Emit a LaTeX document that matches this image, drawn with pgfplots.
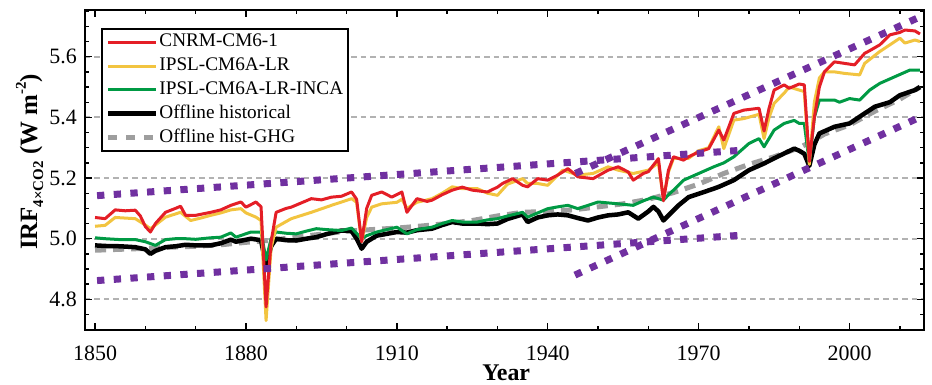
\documentclass[border=0pt]{standalone}
\usepackage{fontspec}
\setmainfont{Liberation Serif}
\usepackage{pgfplots}
\pgfplotsset{compat=1.18}
\definecolor{cred}{RGB}{228,30,38}
\definecolor{cyel}{RGB}{242,196,64}
\definecolor{cgrn}{RGB}{0,154,68}
\definecolor{cgry}{RGB}{158,158,158}
\definecolor{cpur}{RGB}{112,48,160}
\begin{document}
\begin{tikzpicture}
\begin{axis}[
  width=839bp, height=320bp, scale only axis,
  clip mode=individual,
  xmin=1848, xmax=2014.8, ymin=4.699, ymax=5.754,
  xtick={1820,1850,1880,1910,1940,1970,2000,2030},
  xticklabels={1820,1850,1880,1910,1940,1970,2000,2030},
  ytick={4.6,4.8,5.0,5.2,5.4,5.6,5.8},
  yticklabels={4.6,4.8,5.0,5.2,5.4,5.6,5.8},
  minor x tick num=2, minor y tick num=3,
  tick align=inside, xtick pos=both, ytick pos=both,
  xticklabel pos=lower, yticklabel pos=left,
  major tick length=7bp, minor tick length=4bp,
  every tick/.style={black, line width=1.4bp},
  axis line style={line width=2.4bp},
  ymajorgrids,
  major grid style={dash pattern=on 5.5bp off 4bp, line width=1.8bp, color=black!30},
  /pgf/number format/assume math mode=true,
  tick label style={font=\fontsize{22}{26}\selectfont, inner sep=0pt},
  xticklabel style={anchor=base, yshift=-30bp},
  yticklabel style={anchor=east, xshift=-8bp},
  xlabel={\textbf{Year}},
  xlabel style={at={(axis description cs:0.502,0)}, anchor=base, yshift=-50bp, font=\fontsize{24}{28}\selectfont, inner sep=0pt},
  legend image code/.code={\draw[#1] (0bp,0bp) -- (48bp,0bp);},
  legend cell align=left,
  legend style={at={(axis description cs:0.0191,0.9437)}, anchor=north west,
    draw=black, line width=1.8bp, fill=white,
    font=\fontsize{19.3}{22}\selectfont,
    inner xsep=4bp, inner ysep=2bp, row sep=1bp,
    nodes={inner xsep=1bp, inner ysep=2.5bp, text height=13.5bp, text depth=4.3bp}},
]
\addlegendimage{cred, line width=3bp}
\addlegendentry{CNRM-CM6-1}
\addlegendimage{cyel, line width=3bp}
\addlegendentry{IPSL-CM6A-LR}
\addlegendimage{cgrn, line width=3bp}
\addlegendentry{IPSL-CM6A-LR-INCA}
\addlegendimage{black, line width=4.5bp}
\addlegendentry{Offline historical}
\addlegendimage{cgry, line width=4.5bp, dash pattern=on 9bp off 9bp}
\addlegendentry{Offline hist-GHG}

% Offline hist-GHG
\addplot[forget plot, cgry, line width=5bp, dash pattern=on 11bp off 7bp, line join=round] coordinates {
(1850,4.962) (1855,4.965) (1860,4.968) (1865,4.972) (1870,4.975) (1875,4.98) (1880,4.988) (1885,4.995) (1890,5.005) (1895,5.015) (1900,5.025) (1905,5.03) (1910,5.035) (1915,5.042) (1920,5.05) (1925,5.06) (1930,5.075) (1935,5.087) (1940,5.09) (1945,5.095) (1950,5.105) (1955,5.115) (1960,5.13) (1965,5.152) (1970,5.18) (1975,5.215) (1980,5.245) (1985,5.27) (1990,5.3) (1993,5.325) (1995,5.345) (2000,5.375) (2005,5.42) (2010,5.46) (2014,5.5)
};
% Offline historical
\addplot[forget plot, black, line width=4.5bp, line join=round] coordinates {
(1850,4.978) (1852,4.976) (1855,4.975) (1858,4.972) (1860,4.965) (1861,4.95) (1862,4.96) (1864,4.972) (1866,4.975) (1868,4.98) (1870,4.978) (1873,4.978) (1875,4.985) (1877,4.997) (1878,4.99) (1881,5.0) (1883,4.995) (1884,4.91) (1885,4.975) (1886,5.0) (1888,4.995) (1890,4.994) (1892,5.0) (1894,5.005) (1896,5.015) (1899,5.027) (1901,5.025) (1902,5.0) (1903,4.967) (1904,4.99) (1906,5.01) (1908,5.016) (1910,5.022) (1912,5.02) (1914,5.028) (1917,5.033) (1919,5.045) (1921,5.055) (1923,5.05) (1926,5.05) (1928,5.048) (1930,5.05) (1932,5.065) (1935,5.08) (1936,5.055) (1938,5.07) (1940,5.077) (1942,5.08) (1944,5.077) (1946,5.068) (1948,5.06) (1950,5.07) (1952,5.077) (1954,5.08) (1956,5.087) (1958,5.066) (1960,5.09) (1961,5.105) (1962,5.09) (1963,5.06) (1964,5.077) (1966,5.11) (1968,5.137) (1970,5.148) (1973,5.165) (1974,5.171) (1977,5.193) (1980,5.226) (1983,5.248) (1985,5.265) (1987,5.281) (1989,5.297) (1990,5.29) (1991,5.28) (1992,5.24) (1993,5.31) (1994,5.347) (1997,5.369) (2000,5.38) (2002,5.402) (2005,5.435) (2008,5.45) (2010,5.473) (2013,5.49) (2014,5.5)
};
% IPSL-CM6A-LR-INCA
\addplot[forget plot, cgrn, line width=3bp, line join=round] coordinates {
(1850,5.003) (1852,5.0) (1855,4.997) (1858,4.997) (1860,4.99) (1862,4.978) (1864,4.997) (1866,5.0) (1868,5.0) (1870,4.998) (1873,5.003) (1875,5.005) (1877,5.019) (1878,5.005) (1881,5.022) (1883,5.022) (1884,4.93) (1885,5.0) (1886,5.022) (1888,5.018) (1890,5.016) (1892,5.025) (1894,5.033) (1896,5.03) (1899,5.027) (1901,5.035) (1903,5.0) (1904,5.01) (1906,5.022) (1908,5.03) (1910,5.038) (1912,5.016) (1914,5.03) (1917,5.038) (1919,5.05) (1921,5.06) (1923,5.055) (1926,5.055) (1928,5.062) (1930,5.066) (1932,5.075) (1935,5.087) (1936,5.071) (1938,5.085) (1940,5.099) (1942,5.105) (1944,5.11) (1946,5.099) (1948,5.11) (1950,5.121) (1952,5.118) (1954,5.115) (1957,5.11) (1959,5.125) (1961,5.137) (1963,5.127) (1964,5.145) (1965,5.16) (1967,5.193) (1970,5.215) (1973,5.237) (1975,5.25) (1977,5.27) (1980,5.314) (1982,5.33) (1983,5.303) (1985,5.358) (1987,5.38) (1989,5.39) (1990,5.38) (1991,5.38) (1992,5.25) (1993,5.40) (1994,5.457) (1997,5.457) (1998,5.45) (2000,5.462) (2002,5.457) (2004,5.49) (2006,5.512) (2009,5.534) (2012,5.556) (2014,5.556)
};
% IPSL-CM6A-LR
\addplot[forget plot, cyel, line width=3bp, line join=round] coordinates {
(1850,5.041) (1852,5.044) (1854,5.07) (1856,5.068) (1858,5.066) (1860,5.045) (1861,5.033) (1862,5.045) (1864,5.071) (1867,5.087) (1869,5.06) (1871,5.068) (1873,5.077) (1875,5.085) (1877,5.095) (1879,5.099) (1880,5.085) (1882,5.071) (1883,5.06) (1884,4.73) (1885,4.97) (1886,5.038) (1889,5.066) (1893,5.087) (1897,5.11) (1901,5.132) (1902,5.12) (1903,4.99) (1904,5.07) (1905,5.104) (1907,5.115) (1910,5.12) (1911,5.13) (1912,5.10) (1914,5.12) (1917,5.132) (1919,5.15) (1921,5.171) (1923,5.165) (1926,5.165) (1928,5.15) (1930,5.143) (1932,5.18) (1935,5.198) (1936,5.182) (1938,5.182) (1940,5.176) (1943,5.226) (1946,5.21) (1949,5.215) (1952,5.237) (1954,5.226) (1957,5.215) (1960,5.226) (1962,5.25) (1963,5.13) (1964,5.22) (1965,5.265) (1968,5.265) (1970,5.29) (1972,5.30) (1974,5.369) (1975,5.297) (1977,5.391) (1979,5.396) (1982,5.41) (1983,5.33) (1984,5.40) (1985,5.446) (1987,5.48) (1988,5.50) (1990,5.49) (1991,5.485) (1992,5.245) (1993,5.45) (1994,5.53) (1995,5.55) (1997,5.55) (1999,5.545) (2002,5.54) (2003,5.578) (2006,5.617) (2008,5.639) (2010,5.661) (2011,5.645) (2013,5.655) (2014,5.65)
};
% CNRM-CM6-1
\addplot[forget plot, cred, line width=3bp, line join=round] coordinates {
(1850,5.07) (1852,5.066) (1854,5.095) (1856,5.092) (1858,5.094) (1859,5.075) (1860,5.04) (1861,5.022) (1862,5.05) (1864,5.087) (1866,5.10) (1867,5.107) (1868,5.077) (1870,5.077) (1873,5.087) (1875,5.095) (1877,5.11) (1879,5.121) (1880,5.104) (1882,5.121) (1883,5.105) (1884,4.775) (1885,4.99) (1886,5.087) (1888,5.10) (1889,5.104) (1891,5.118) (1893,5.132) (1895,5.128) (1897,5.137) (1899,5.14) (1901,5.154) (1902,5.13) (1903,4.99) (1904,5.10) (1905,5.143) (1907,5.154) (1909,5.137) (1911,5.154) (1912,5.087) (1914,5.132) (1916,5.123) (1917,5.127) (1919,5.145) (1921,5.16) (1923,5.17) (1925,5.16) (1928,5.154) (1930,5.17) (1931,5.182) (1933,5.198) (1935,5.176) (1936,5.171) (1938,5.198) (1940,5.193) (1942,5.21) (1944,5.231) (1946,5.204) (1949,5.198) (1952,5.226) (1954,5.237) (1956,5.22) (1957,5.193) (1959,5.215) (1960,5.221) (1962,5.264) (1963,5.125) (1964,5.226) (1965,5.27) (1967,5.259) (1968,5.27) (1970,5.286) (1972,5.297) (1974,5.358) (1975,5.325) (1977,5.413) (1979,5.424) (1982,5.43) (1983,5.355) (1984,5.43) (1985,5.49) (1987,5.507) (1988,5.496) (1990,5.51) (1991,5.507) (1992,5.255) (1993,5.40) (1994,5.50) (1995,5.55) (1997,5.583) (1999,5.578) (2001,5.573) (2003,5.611) (2004,5.62) (2006,5.639) (2008,5.672) (2010,5.68) (2011,5.688) (2013,5.685) (2014,5.675)
};
% purple trend bands
\addplot[forget plot, cpur, line width=7bp, dash pattern=on 7.3bp off 9.4bp] coordinates {(1850.4,5.142) (1978.9,5.292)};
\addplot[forget plot, cpur, line width=7bp, dash pattern=on 7.3bp off 9.4bp] coordinates {(1850.4,4.862) (1978.9,5.012)};
\addplot[forget plot, cpur, line width=7bp, dash pattern=on 7.3bp off 9.4bp] coordinates {(1945.5,5.215) (2014.5,5.735)};
\addplot[forget plot, cpur, line width=7bp, dash pattern=on 7.3bp off 9.4bp] coordinates {(1945.4,4.880) (2014.3,5.403)};
\node[rotate=90, anchor=base, inner sep=0pt, font=\fontsize{25}{30}\selectfont\bfseries] at (axis description cs:-0.0572,0.525)
  {IRF\raisebox{-0.25em}{\fontsize{15}{15}\selectfont 4×CO2} (W m\raisebox{0.45em}{\fontsize{15}{15}\selectfont -2})};
\coordinate (ll) at (rel axis cs:0,0);
\coordinate (ur) at (rel axis cs:1,1);
\end{axis}
\pgfresetboundingbox
\path ([shift={(-85bp,-55bp)}]ll) rectangle ([shift={(8bp,10bp)}]ur);
\end{tikzpicture}
\end{document}
